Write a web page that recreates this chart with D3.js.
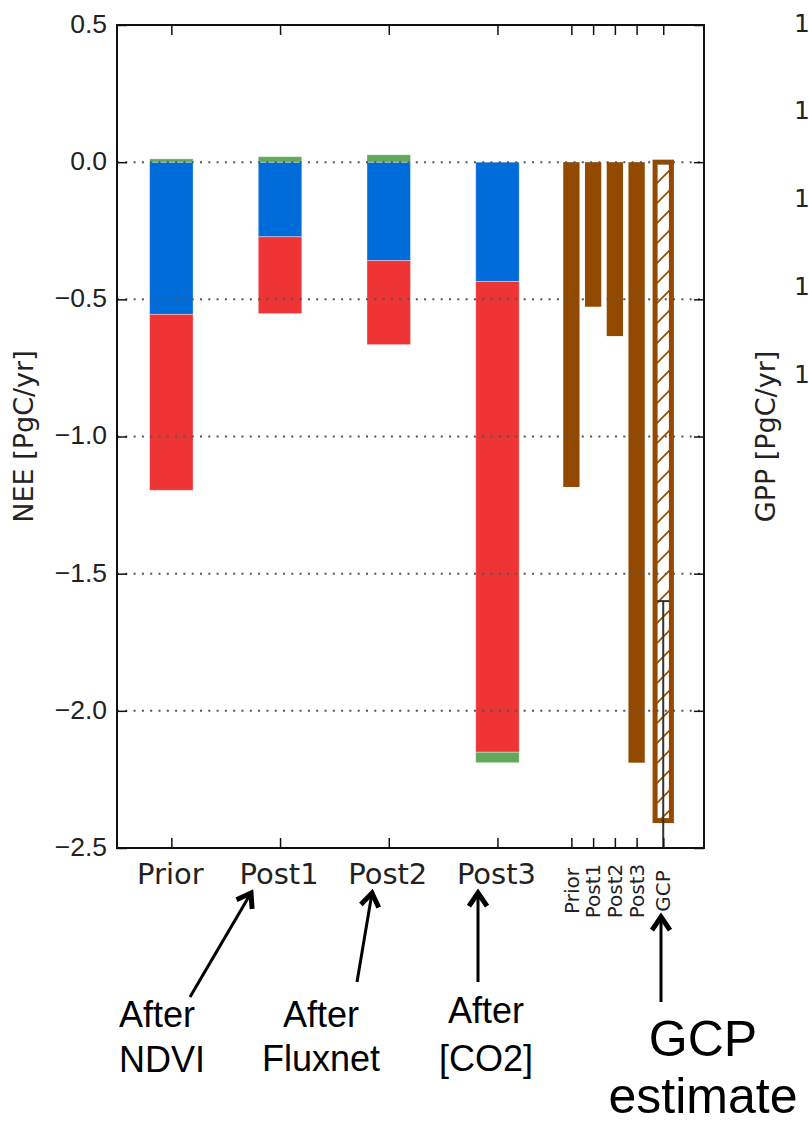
<!DOCTYPE html>
<html>
<head>
<meta charset="utf-8">
<script src="https://cdn.jsdelivr.net/npm/d3@7"></script>
<style>
body { margin: 0; background: #fff; overflow: hidden; }
svg { display: block; font-family: "DejaVu Sans", sans-serif; }
.axis path { display: none; }
.axis line { stroke: #111; stroke-width: 1.5; }
.note { font-family: "Liberation Sans", Arial, sans-serif; fill: #000; }
</style>
</head>
<body>
<div id="chart"></div>
<script>
// stacked components per inversion step (PgC/yr)
const categories = ["Prior", "Post1", "Post2", "Post3"];
const blueSeg  = [-0.555, -0.272, -0.359, -0.435];
const redSeg   = [-0.641, -0.280, -0.306, -1.716];
const greenSeg = [0.012, 0.020, 0.027, -0.038];

// net NEE bars on the right of the panel + GCP reference
const netLabels = ["Prior", "Post1", "Post2", "Post3"];
const netValues = [-1.184, -0.527, -0.634, -2.189];
const netPos    = [3.68, 3.88, 4.08, 4.28];
const gcpLabel = "GCP";
const gcpPos = 4.525;
const gcpValue = -2.4;
const gcpErr = 0.8;

const yTicks = [0.5, 0.0, -0.5, -1.0, -1.5, -2.0, -2.5];
const gridTicks = [0.0, -0.5, -1.0, -1.5, -2.0];
// neighbouring GPP panel: only the leading digit of its tick labels is on the page
const gppTickPos = [150, 140, 130, 120, 110];
const gppTickLabels = ["1", "1", "1", "1", "1"];

const W = 809, H = 1126;
const mLeft = 117, mRight = 704, mTop = 25, mBottom = 848;
const blue = "#006cd9", red = "#ee3435", green = "#62a85b", brown = "#934a00";

const svg = d3.select("#chart").append("svg").attr("width", W).attr("height", H);

const x = d3.scaleLinear().domain([-0.5, 4.9]).range([mLeft, mRight]);
const y = d3.scaleLinear().domain([0.5, -2.5]).range([mTop, mBottom]);

const defs = svg.append("defs");
defs.append("clipPath").attr("id", "plotclip")
    .append("rect").attr("x", mLeft).attr("y", mTop).attr("width", mRight - mLeft).attr("height", mBottom - mTop);
const pat = defs.append("pattern").attr("id", "hatch")
    .attr("patternUnits", "userSpaceOnUse").attr("width", 20).attr("height", 20);
pat.append("path").attr("d", "M0,20 L20,0 M-5,5 L5,-5 M15,25 L25,15")
    .attr("stroke", brown).attr("stroke-width", 1.6);

const plot = svg.append("g").attr("clip-path", "url(#plotclip)");

// stacked bars
const rows = categories.map((c, i) => ({ cat: c, i, blue: blueSeg[i], red: redSeg[i], green: greenSeg[i] }));
const stack = d3.stack().keys(["blue", "red", "green"]).offset(d3.stackOffsetDiverging)(rows);
const colors = { blue, red, green };
const bw = 0.4;

plot.selectAll("g.layer").data(stack).join("g")
    .attr("class", "layer")
    .attr("fill", d => colors[d.key])
    .selectAll("rect").data(d => d).join("rect")
    .attr("x", d => x(d.data.i - bw / 2))
    .attr("width", x(bw) - x(0))
    .attr("y", d => y(d[1]))
    .attr("height", d => y(d[0]) - y(d[1]))
    .attr("stroke", "#fff").attr("stroke-opacity", 0.35).attr("stroke-width", 1);

// net bars
const sw = 0.15;
plot.selectAll("rect.net").data(netValues).join("rect")
    .attr("class", "net")
    .attr("x", (d, i) => x(netPos[i] - sw / 2))
    .attr("width", x(sw) - x(0))
    .attr("y", d => y(Math.max(0, d)))
    .attr("height", d => Math.abs(y(d) - y(0)))
    .attr("fill", brown);

// GCP hatched bar with error bar
plot.append("rect")
    .attr("x", x(gcpPos - sw / 2))
    .attr("width", x(sw) - x(0))
    .attr("y", y(0))
    .attr("height", y(gcpValue) - y(0))
    .attr("fill", "#fff");
plot.append("rect")
    .attr("x", x(gcpPos - sw / 2))
    .attr("width", x(sw) - x(0))
    .attr("y", y(0))
    .attr("height", y(gcpValue) - y(0))
    .attr("fill", "url(#hatch)")
    .attr("stroke", brown).attr("stroke-width", 5);
plot.append("line")
    .attr("x1", x(gcpPos)).attr("x2", x(gcpPos))
    .attr("y1", y(gcpValue + gcpErr)).attr("y2", y(gcpValue - gcpErr))
    .attr("stroke", "#333").attr("stroke-width", 2);
plot.append("line")
    .attr("x1", x(gcpPos) - 6).attr("x2", x(gcpPos) + 6)
    .attr("y1", y(gcpValue + gcpErr)).attr("y2", y(gcpValue + gcpErr))
    .attr("stroke", "#333").attr("stroke-width", 2);

// dotted grid on top of bars
plot.selectAll("line.grid").data(gridTicks).join("line")
    .attr("class", "grid")
    .attr("x1", mLeft).attr("x2", mRight)
    .attr("y1", d => y(d)).attr("y2", d => y(d))
    .attr("stroke", "#555").attr("stroke-width", 2)
    .attr("stroke-dasharray", "2,6.3");

// axes
const xTickVals = [0, 1, 2, 3, ...netPos, gcpPos];
const fmt = v => d3.format(".1f")(v).replace("-", "\u2212");

svg.append("g").attr("class", "axis").attr("transform", `translate(${mLeft},0)`)
    .call(d3.axisLeft(y).tickValues(yTicks).tickSize(-10).tickPadding(10).tickFormat(fmt))
    .call(g => g.selectAll("text").attr("font-size", 26.5).attr("fill", "#222").attr("dy", "0.28em"));
svg.append("g").attr("class", "axis").attr("transform", `translate(${mRight},0)`)
    .call(d3.axisRight(y).tickValues(yTicks).tickSize(-10).tickFormat(""));
svg.append("g").attr("class", "axis").attr("transform", `translate(0,${mTop})`)
    .call(d3.axisTop(x).tickValues(xTickVals).tickSize(-10).tickFormat(""));
svg.append("g").attr("class", "axis").attr("transform", `translate(0,${mBottom})`)
    .call(d3.axisBottom(x).tickValues(xTickVals).tickSize(-10).tickFormat(""));

svg.append("rect")
    .attr("x", mLeft).attr("y", mTop).attr("width", mRight - mLeft).attr("height", mBottom - mTop)
    .attr("fill", "none").attr("stroke", "#111").attr("stroke-width", 2);

// category labels
svg.selectAll("text.cat").data(categories).join("text")
    .attr("class", "cat")
    .attr("x", (d, i) => x(i) - 1).attr("y", 884)
    .attr("text-anchor", "middle").attr("font-size", 29).attr("fill", "#222")
    .text(d => d);

svg.selectAll("text.small").data([...netLabels, gcpLabel]).join("text")
    .attr("class", "small")
    .attr("transform", (d, i) => `translate(${x(i < netPos.length ? netPos[i] : gcpPos)},891) rotate(-90)`)
    .attr("text-anchor", "middle").attr("dy", "0.36em")
    .attr("font-size", 20).attr("fill", "#222")
    .text(d => d);

svg.append("text")
    .attr("transform", `translate(33,${(mTop + mBottom) / 2}) rotate(-90)`)
    .attr("text-anchor", "middle").attr("font-size", 27).attr("fill", "#222")
    .text("NEE [PgC/yr]");

// neighbouring GPP panel (cut off at the right edge)
const gppY = d3.scaleLinear().domain([150, 110]).range([24, 375]);
svg.append("text")
    .attr("transform", `translate(775,${(mTop + mBottom) / 2}) rotate(-90)`)
    .attr("text-anchor", "middle").attr("font-size", 27).attr("fill", "#222")
    .text("GPP [PgC/yr]");
svg.selectAll("text.gpp").data(gppTickPos).join("text")
    .attr("class", "gpp")
    .attr("x", 794).attr("y", d => gppY(d)).attr("dy", "0.3em")
    .attr("font-size", 25).attr("fill", "#222")
    .text((d, i) => gppTickLabels[i]);

// annotations
function arrow(x1, y1, x2, y2) {
    const a = Math.atan2(y2 - y1, x2 - x1);
    const L = 16, sp = 0.6;
    svg.append("line").attr("x1", x1).attr("y1", y1).attr("x2", x2).attr("y2", y2)
        .attr("stroke", "#000").attr("stroke-width", 3);
    const p1 = [x2 - L * Math.cos(a - sp), y2 - L * Math.sin(a - sp)];
    const p2 = [x2 - L * Math.cos(a + sp), y2 - L * Math.sin(a + sp)];
    svg.append("path")
        .attr("d", `M${p1}L${x2},${y2}L${p2}`)
        .attr("fill", "none").attr("stroke", "#000").attr("stroke-width", 5)
        .attr("stroke-linejoin", "miter").attr("stroke-linecap", "butt");
}
arrow(190, 997, 251, 893);
arrow(357, 982, 372, 893);
arrow(478, 982, 478, 893);
arrow(661, 1002, 661, 917);

function note(lines, cx, y0, dy, size, anchor) {
    const t = svg.append("text").attr("class", "note")
        .attr("font-size", size).attr("text-anchor", anchor);
    lines.forEach((s, i) => t.append("tspan").attr("x", cx).attr("y", y0 + i * dy).text(s));
}
note(["After", "NDVI"], 119, 1027, 45, 36, "start");
note(["After", "Fluxnet"], 321, 1027, 44, 36, "middle");
note(["After", "[CO2]"], 486, 1023, 48, 36, "middle");
note(["GCP", "estimate"], 703, 1056, 57, 50, "middle");
</script>
</body>
</html>
